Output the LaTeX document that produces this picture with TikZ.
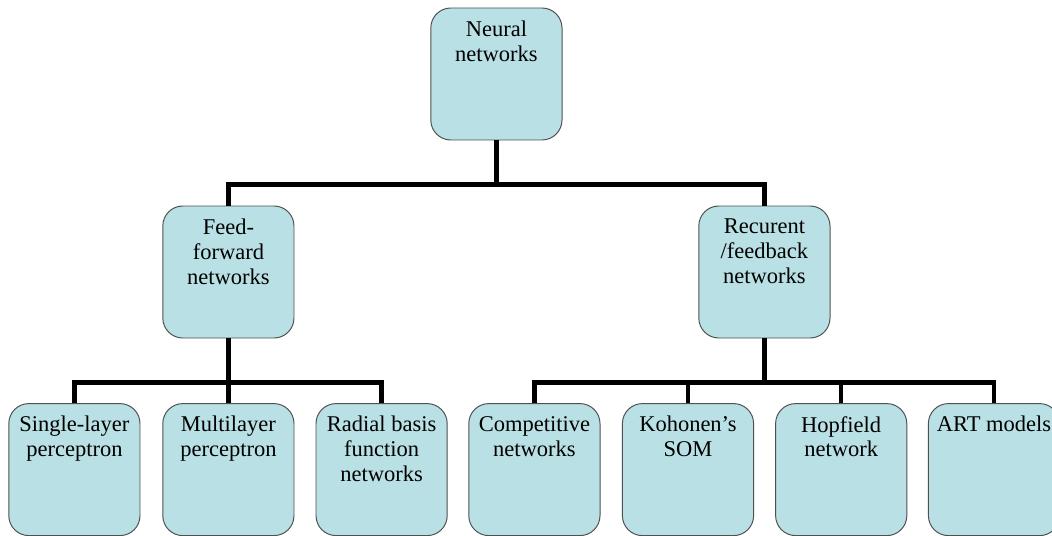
\documentclass[tikz,border=0pt]{standalone}
\usepackage{fontspec}
\setmainfont{Liberation Serif}
\usepackage{tikz}
\usetikzlibrary{positioning}
\definecolor{boxfill}{RGB}{185,224,228}
\definecolor{boxline}{RGB}{80,80,80}
\newcommand{\boxlabel}[1]{\parbox[c][3.3cm][t]{3.28cm}{\centering\vspace{9pt}#1}}
\tikzset{
  netbox/.style={draw=boxline, line width=0.7pt, fill=boxfill,
    rounded corners=0.5cm, inner sep=0pt,
    font=\rmfamily\fontsize{16}{17.7}\selectfont},
  link/.style={line width=3.2pt, black}
}

\begin{document}
\begin{tikzpicture}

\useasboundingbox (0,0) rectangle (26.3,-13.4);

% ---------------- Root ----------------
\node[netbox] (nn) at (12.41,-1.85) {\boxlabel{Neural\\networks}};

% ---------------- Two families ----------------
\node[netbox] (ff)  at (5.71,-6.8)  {\boxlabel{Feed-\\forward\\networks}};
\node[netbox] (rec) at (19.11,-6.8) {\boxlabel{Recurent\\/feedback\\networks}};

% ---------------- Feed-forward models ----------------
\node[netbox] (slp) at (1.86,-11.74) {\boxlabel{Single-layer\\perceptron}};
\node[netbox] (mlp) at (5.71,-11.74) {\boxlabel{Multilayer\\perceptron}};
\node[netbox] (rbf) at (9.54,-11.74) {\boxlabel{Radial basis\\function\\networks}};

% ---------------- Recurrent models ----------------
\node[netbox] (comp) at (13.36,-11.74) {\boxlabel{Competitive\\networks}};
\node[netbox] (som)  at (17.2,-11.74)  {\boxlabel{Kohonen’s\\SOM}};
\node[netbox] (hop)  at (21.03,-11.74) {\boxlabel{Hopfield\\network}};
\node[netbox] (art)  at (24.85,-11.74) {\boxlabel{ART models}};

% ---------------- Tree links ----------------
\foreach \c in {ff,rec}{
  \draw[link] (nn.south) -- ++(0,-1.1) -| (\c.north);
}
\foreach \c in {slp,mlp,rbf}{
  \draw[link] (ff.south) -- ++(0,-1.1) -| (\c.north);
}
\foreach \c in {comp,som,hop,art}{
  \draw[link] (rec.south) -- ++(0,-1.1) -| (\c.north);
}

\end{tikzpicture}
\end{document}
